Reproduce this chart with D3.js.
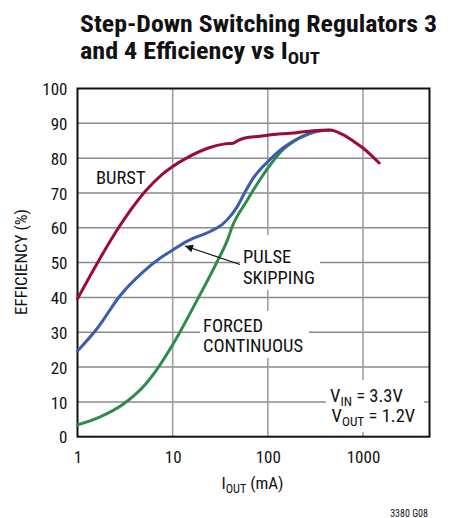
<!DOCTYPE html>
<html><head><meta charset="utf-8">
<script src="https://cdn.jsdelivr.net/npm/d3@7"></script>
<style>
body{margin:0;background:#fff;}
text{font-family:"Liberation Sans Narrow","Arial Narrow","Roboto Condensed","DejaVu Sans Condensed","Liberation Sans",Arial,sans-serif;fill:#111;}
.title{font-weight:bold;}
</style></head>
<body>
<svg id="c" width="449" height="518"></svg>
<script>
const burstX = [1, 1.5, 2.3, 3.43, 5.13, 7.66, 10, 14.6, 23.7, 35.4, 43.3, 48.9, 57.5, 82.6, 100, 200, 300, 450, 600, 800, 1000, 1200, 1480];
const burstY = [39.6, 48.3, 57.0, 64.2, 70.4, 75.2, 77.6, 80.3, 82.9, 84.1, 84.3, 85.1, 85.8, 86.3, 86.6, 87.3, 87.9, 88.1, 86.9, 84.8, 82.9, 81.0, 78.6];
const pulseX = [1, 1.6, 2.8, 4.93, 7.4, 10, 14.6, 25, 33, 40, 47, 57.5, 70, 100, 144, 254, 350, 450];
const pulseY = [24.6, 31.0, 40.5, 47.4, 51.3, 53.6, 56.3, 59.0, 60.9, 63.2, 65.8, 70.2, 74.2, 79.0, 82.9, 86.7, 87.8, 88.0];
const forcedX = [1, 1.73, 3.04, 4.93, 7.1, 10, 18.7, 29, 38.5, 41.5, 59.8, 82.6, 100, 144, 200, 300];
const forcedY = [3.4, 5.7, 9.4, 14.4, 20.0, 26.4, 40.0, 50.0, 57.2, 59.8, 67.6, 73.8, 77.1, 82.4, 85.3, 87.5];
const xTicks = [1, 10, 100, 1000];
const yTicks = [0, 10, 20, 30, 40, 50, 60, 70, 80, 90, 100];

const svg = d3.select("#c");
const x = d3.scaleLog().domain([1, 5000]).range([77.5, 429.5]);
const y = d3.scaleLinear().domain([0, 100]).range([436.7, 88.5]);

// gridlines
const grid = svg.append("g");
grid.selectAll("line.h").data(yTicks.slice(1, -1)).join("line")
  .attr("x1", x(1)).attr("x2", x(5000)).attr("y1", d => y(d)).attr("y2", d => y(d))
  .attr("stroke", "#8a8a8a").attr("stroke-width", 1.5);
grid.selectAll("line.v").data(xTicks.slice(1)).join("line")
  .attr("x1", d => x(d)).attr("x2", d => x(d)).attr("y1", y(0)).attr("y2", y(100))
  .attr("stroke", "#9a9a9a").attr("stroke-width", 1.5);

// label knockouts
const ko = [[240, 235, 80, 55], [200, 311, 109, 47], [326, 380, 98, 52]];
svg.append("g").selectAll("rect").data(ko).join("rect")
  .attr("x", d => d[0]).attr("y", d => d[1]).attr("width", d => d[2]).attr("height", d => d[3])
  .attr("fill", "#fff");

// frame
svg.append("rect").attr("x", x(1)).attr("y", y(100)).attr("width", x(5000) - x(1)).attr("height", y(0) - y(100))
  .attr("fill", "none").attr("stroke", "#111").attr("stroke-width", 2);

// axes tick labels via d3 axis
const yAxis = d3.axisLeft(y).tickValues(yTicks).tickSize(0).tickPadding(10).tickFormat(d3.format("d"));
const gy = svg.append("g").attr("transform", `translate(${x(1)},0)`).call(yAxis);
gy.select(".domain").remove();
gy.selectAll("text").attr("font-size", 17).attr("fill", "#111").attr("dy", "0.36em");
const xAxis = d3.axisBottom(x).tickValues(xTicks).tickSize(0).tickPadding(14).tickFormat(d3.format("d"));
const gx = svg.append("g").attr("transform", `translate(0,${y(0)})`).call(xAxis);
gx.select(".domain").remove();
gx.selectAll("text").attr("font-size", 17).attr("fill", "#111").attr("dy", "0.71em");
svg.selectAll(".tick text").attr("font-family", null);

// curves
const line = d3.line().x(d => x(d[0])).y(d => y(d[1])).curve(d3.curveMonotoneX);
const series = [
  [d3.zip(forcedX, forcedY), "#2f8c46"],
  [d3.zip(pulseX, pulseY), "#3d5cae"],
  [d3.zip(burstX, burstY), "#9a0b3b"]
];
svg.append("g").selectAll("path").data(series).join("path")
  .attr("d", d => line(d[0])).attr("fill", "none").attr("stroke", d => d[1])
  .attr("stroke-width", 3).attr("stroke-linejoin", "round").attr("stroke-linecap", "round");

// arrow
svg.append("defs").append("marker").attr("id", "ah").attr("viewBox", "0 0 10 10")
  .attr("refX", 10).attr("refY", 5).attr("markerWidth", 11).attr("markerHeight", 8)
  .attr("markerUnits", "userSpaceOnUse").attr("orient", "auto")
  .append("path").attr("d", "M0,0L10,5L0,10Z").attr("fill", "#111");
svg.append("line").attr("x1", 240).attr("y1", 264.5).attr("x2", 185).attr("y2", 246)
  .attr("stroke", "#111").attr("stroke-width", 1.2).attr("marker-end", "url(#ah)");

// labels
function lab(t, px, py, fs, anchor) {
  return svg.append("text").attr("x", px).attr("y", py).attr("font-size", fs)
    .attr("text-anchor", anchor || "start").text(t);
}
lab("BURST", 96, 184, 18.5);
lab("PULSE", 243, 263, 18.5);
lab("SKIPPING", 243, 284, 18.5);
lab("FORCED", 203, 332, 18.5);
lab("CONTINUOUS", 203, 352, 18.5);

function sub(px, py, fs, a, s, b, anchor, cls) {
  const t = svg.append("text").attr("x", px).attr("y", py).attr("font-size", fs)
    .attr("text-anchor", anchor || "start");
  if (cls) t.attr("class", cls);
  t.append("tspan").text(a);
  t.append("tspan").attr("font-size", fs * 0.72).attr("dy", fs * 0.24).text(s);
  t.append("tspan").attr("dy", -fs * 0.24).text(b);
  return t;
}
sub(330, 401.5, 18.5, "V", "IN", " = 3.3V");
sub(331.5, 421.5, 18.5, "V", "OUT", " = 1.2V");
sub(252.5, 489, 17, "I", "OUT", " (mA)", "middle");

svg.append("text").attr("transform", "translate(27,262) rotate(-90)").attr("text-anchor", "middle")
  .attr("font-size", 17).text("EFFICIENCY (%)");

svg.append("text").attr("x", 428).attr("y", 517).attr("text-anchor", "end").attr("font-size", 10).text("3380 G08");

// title
svg.append("text").attr("class", "title").attr("x", 80).attr("y", 32).attr("font-size", 23.5)
  .attr("textLength", 357).attr("lengthAdjust", "spacingAndGlyphs")
  .text("Step-Down Switching Regulators 3");
sub(80, 58.5, 23.5, "and 4 Efficiency vs I", "OUT", "", "start", "title")
  .attr("textLength", 240).attr("lengthAdjust", "spacingAndGlyphs");
</script>
</body></html>
